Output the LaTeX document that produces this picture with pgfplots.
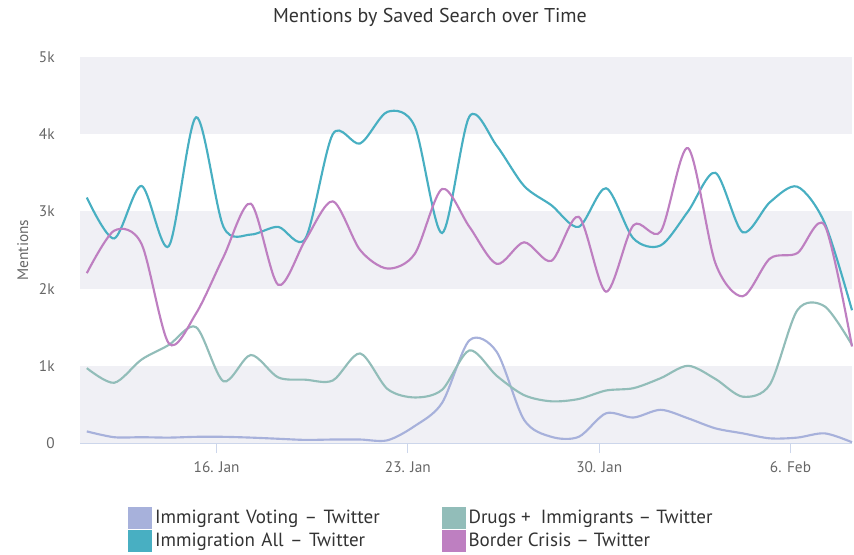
\documentclass[border=0pt]{standalone}
\usepackage{pgfplots}
\pgfplotsset{compat=1.18}
\usepackage{fontspec}
\setmainfont{PT Sans}

\definecolor{cvote}{HTML}{A7B1DB}
\definecolor{cdrug}{HTML}{92BDB9}
\definecolor{call}{HTML}{48AFC2}
\definecolor{ccrisis}{HTML}{BE7FC1}
\definecolor{cband}{HTML}{F0F0F5}
\definecolor{caxis}{HTML}{CCD6EB}
\definecolor{ctext}{HTML}{666666}
\definecolor{ctitle}{HTML}{333333}

% daily values, x = day of January (Feb 6 = 37)
\pgfplotstableread{
x      vote  drug  all   crisis
11.25  150   970   3180  2200
12.25  75    780   2650  2750
13.25  75    1080  3330  2580
14.25  70    1270  2550  1290
15.25  80    1500  4220  1680
16.25  80    800   2800  2410
17.25  70    1140  2700  3100
18.25  55    850   2800  2050
19.25  40    820   2650  2630
20.25  45    810   4000  3130
21.25  45    1160  3880  2500
22.25  35    700   4290  2260
23.25  220   590   4100  2450
24.25  520   690   2720  3290
25.25  1330  1200  4230  2800
26.25  1180  870   3850  2320
27.25  300   620   3330  2600
28.25  80    540   3080  2360
29.25  80    570   2800  2930
30.25  385   680   3300  1960
31.25  330   710   2650  2820
32.25  430   840   2560  2740
33.25  320   1000  3000  3820
34.25  190   830   3500  2330
35.25  125   600   2730  1900
36.25  60    760   3120  2390
37.25  70    1720  3320  2460
38.25  125   1770  2850  2820
39.25  10    1270  1720  1250
}\mentions

\begin{document}
\begin{tikzpicture}
\begin{axis}[
    scale only axis,
    width=579pt, height=289.5pt,
    xmin=11, xmax=39.25,
    ymin=0, ymax=5000,
    axis x line*=bottom, axis y line*=left,
    x axis line style={draw=caxis, line width=0.8pt},
    y axis line style={draw=none},
    tick align=outside,
    major tick length=7.5pt,
    xtick={16,23,30,37},
    xticklabels={16. Jan, 23. Jan, 30. Jan, 6. Feb},
    xtick style={draw=caxis, line width=0.8pt},
    ytick={0,1000,2000,3000,4000,5000},
    yticklabels={0,1k,2k,3k,4k,5k},
    ytick style={draw=none},
    /pgf/number format/assume math mode=true,
    ticklabel style={font=\fontsize{11.5}{13}\selectfont, text=ctext},
    xticklabel style={yshift=-3pt},
    yticklabel style={xshift=-8pt},
    legend columns=2,
    legend style={at={(0.0622,0)}, anchor=north west, yshift=-47.5pt,
        draw=none, fill=none, inner sep=0pt,
        font=\fontsize{14.3}{16}\selectfont, text=ctitle,
        cells={anchor=west}, row sep=1pt,
        /tikz/column 2/.style={text width=213pt}},
    legend image code/.code={\fill[#1] (0pt,-7.5pt) rectangle (16.5pt,7.5pt);},
    every axis plot/.append style={line width=1.6pt, smooth, tension=0.5},
    clip=false,
]
\fill[cband] (axis cs:11,0) rectangle (axis cs:39.25,1000);
\fill[cband] (axis cs:11,2000) rectangle (axis cs:39.25,3000);
\fill[cband] (axis cs:11,4000) rectangle (axis cs:39.25,5000);
\addplot[cvote] table[x=x, y=vote] {\mentions};
\addlegendentry{Immigrant Voting -- Twitter}
\addplot[cdrug] table[x=x, y=drug] {\mentions};
\addlegendentry{Drugs +\ \ Immigrants -- Twitter}
\addplot[call] table[x=x, y=all] {\mentions};
\addlegendentry{Immigration All -- Twitter}
\addplot[ccrisis] table[x=x, y=crisis] {\mentions};
\addlegendentry{Border Crisis -- Twitter}
\end{axis}
\coordinate (O) at ([xshift=-60pt, yshift=-83.25pt]current axis.south west);
\node[font=\fontsize{15}{17}\selectfont, text=ctitle] at ([xshift=322.5pt, yshift=402.75pt]O) {Mentions by Saved Search over Time};
\node[rotate=90, font=\fontsize{11.5}{13}\selectfont, text=ctext] at ([xshift=17pt, yshift=228pt]O) {Mentions};
\path (O) rectangle ++(640.5pt, 415.5pt);
\end{tikzpicture}
\end{document}
